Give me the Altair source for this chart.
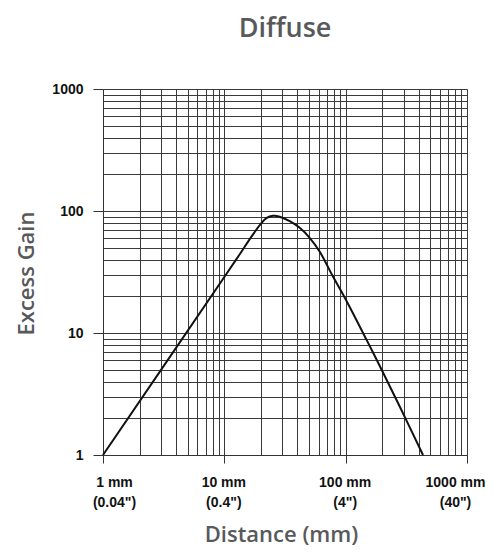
import altair as alt
import pandas as pd

# Curve (log-log)
distance_mm = [1, 10, 13.4, 16.2, 19.6, 22.2, 25.2, 28.6, 34.6, 41.8, 50.5, 61.2, 78.6, 101.4, 148, 197, 279, 434]
excess_gain = [1, 28.8, 44.2, 58.8, 76.5, 87.5, 91.3, 89.7, 82.5, 72.8, 60.3, 46.3, 29.0, 18.4, 8.86, 5.05, 2.5, 1]

grid_values = [d * 10 ** k for k in range(3) for d in range(1, 10)] + [1000]
decades = [1, 10, 100, 1000]
x_labels_mm = ["1 mm", "10 mm", "100 mm", "1000 mm"]
x_labels_in = ['(0.04")', '(0.4")', '(4")', '(40")']
y_labels = ["1", "10", "100", "1000"]

df = pd.DataFrame({"distance": distance_mm, "gain": excess_gain})


def js_str(s):
    return "'" + s.replace("'", "\\'") + "'"


x_label_expr = " : ".join(
    f"datum.value == {v} ? [{js_str(a)}, {js_str(b)}]"
    for v, a, b in zip(decades, x_labels_mm, x_labels_in)
) + " : ''"
y_label_expr = " : ".join(
    f"datum.value == {v} ? {js_str(t)}" for v, t in zip(decades, y_labels)
) + " : ''"
decade_test = " || ".join(f"datum.value == {v}" for v in decades)

label_font = "Liberation Sans, Arial, sans-serif"
title_font = "Open Sans, Lato, sans-serif"
title_color = "#58595b"

x_axis = alt.Axis(
    values=grid_values,
    labelExpr=x_label_expr,
    title="Distance (mm)",
    titleFont=title_font,
    titleFontSize=22,
    titleFontWeight=600,
    titleColor=title_color,
    titleX=178,
    titleY=86,
    titleBaseline="alphabetic",
    titleAlign="center",
    labelFont=label_font,
    labelFontSize=14,
    labelFontWeight="bold",
    labelColor="#111111",
    labelLineHeight=20,
    labelPadding=12,
    labelOffset={
        "condition": [
            {"test": "datum.value == 1", "value": 11},
            {"test": "datum.value == 1000", "value": -12},
        ],
        "value": -1,
    },
    labelFlush=False,
    labelOverlap=False,
    tickSize=8,
    tickColor="#333333",
    tickOpacity={"condition": {"test": decade_test, "value": 1}, "value": 0},
    grid=True,
    gridColor="#3a3a3a",
    gridOpacity=1,
    gridWidth=1,
    domainColor="#333333",
)

y_axis = alt.Axis(
    values=grid_values,
    labelExpr=y_label_expr,
    title="Excess Gain",
    titleFont=title_font,
    titleFontSize=22,
    titleFontWeight=600,
    titleColor=title_color,
    titleAngle=-90,
    titleX=-77,
    titleY=184,
    titleBaseline="middle",
    titleAlign="center",
    labelFont=label_font,
    labelFontSize=14,
    labelFontWeight="bold",
    labelColor="#111111",
    labelPadding=10,
    labelFlush=False,
    labelOverlap=False,
    tickSize=10,
    tickColor="#333333",
    tickOpacity={"condition": {"test": decade_test, "value": 1}, "value": 0},
    grid=True,
    gridColor="#3a3a3a",
    gridOpacity=1,
    gridWidth=1,
    domainColor="#333333",
)

chart = (
    alt.Chart(df)
    .mark_line(color="#111111", strokeWidth=2, interpolate="catmull-rom")
    .encode(
        x=alt.X("distance:Q", scale=alt.Scale(type="log", domain=[1, 1000], nice=False), axis=x_axis),
        y=alt.Y("gain:Q", scale=alt.Scale(type="log", domain=[1, 1000], nice=False), axis=y_axis),
    )
    .properties(
        width=364,
        height=366,
        autosize=alt.AutoSizeParams(type="none"),
        padding={"left": 95, "top": 81, "right": 18, "bottom": 91},
        title=alt.Title(
            "Diffuse",
            font=title_font,
            fontSize=27,
            fontWeight=600,
            color=title_color,
            anchor="middle",
            frame="group",
            offset=39,
        ),
    )
    .configure_view(stroke=None)
    .configure(background="white")
)

chart.save("out.html", embed_options={"renderer": "svg", "actions": False})
